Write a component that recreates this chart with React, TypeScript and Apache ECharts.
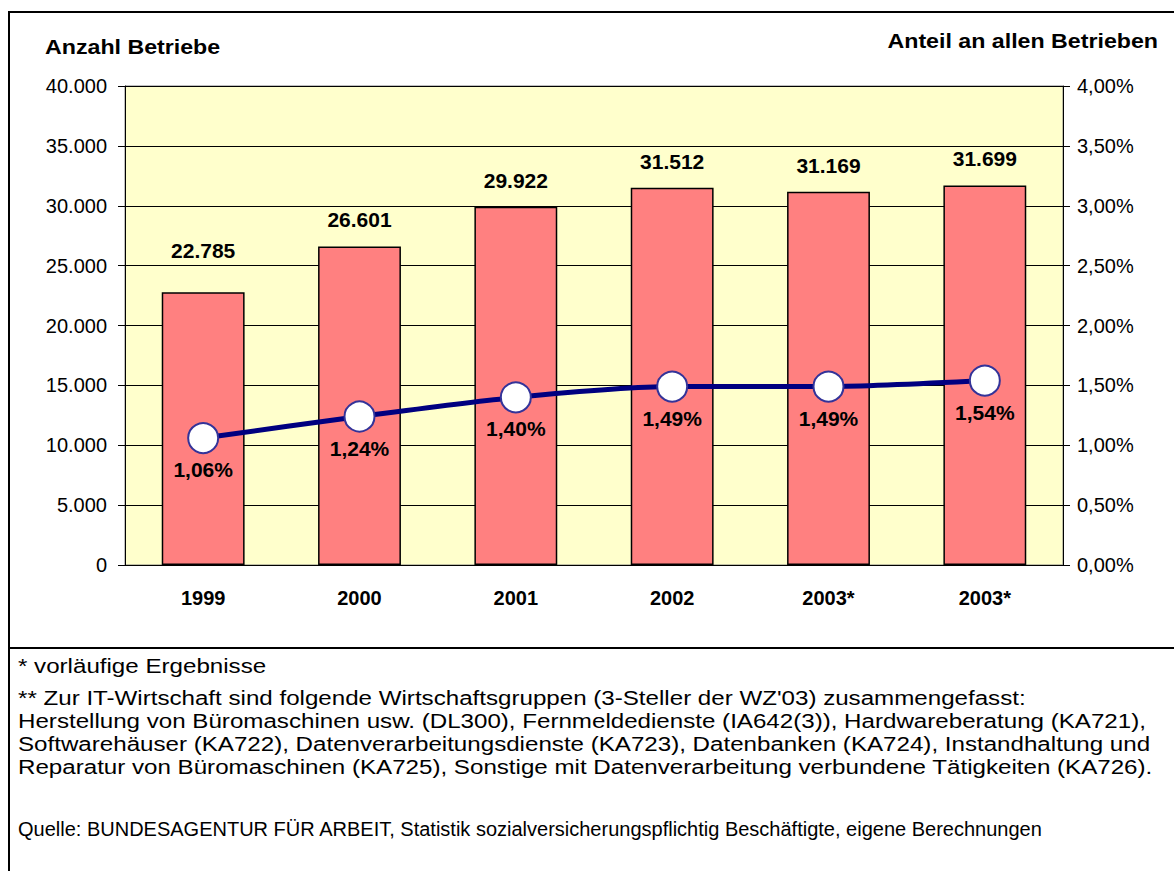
import React, { useEffect, useRef } from "react";
import * as echarts from "echarts";

const categories = ["1999", "2000", "2001", "2002", "2003*", "2003*"];
const betriebe = [22785, 26601, 29922, 31512, 31169, 31699];
const anteil = [1.06, 1.24, 1.4, 1.49, 1.49, 1.54];
const leftTicks = [0, 5000, 10000, 15000, 20000, 25000, 30000, 35000, 40000];
const rightTicks = [0, 0.5, 1, 1.5, 2, 2.5, 3, 3.5, 4];
const footnotes = [
  "* vorläufige Ergebnisse",
  "** Zur IT-Wirtschaft sind folgende Wirtschaftsgruppen (3-Steller der WZ'03) zusammengefasst:",
  "Herstellung von Büromaschinen usw. (DL300), Fernmeldedienste (IA642(3)), Hardwareberatung (KA721),",
  "Softwarehäuser (KA722), Datenverarbeitungsdienste (KA723), Datenbanken (KA724), Instandhaltung und",
  "Reparatur von Büromaschinen (KA725), Sonstige mit Datenverarbeitung verbundene Tätigkeiten (KA726).",
];
const source =
  "Quelle: BUNDESAGENTUR FÜR ARBEIT, Statistik sozialversicherungspflichtig Beschäftigte, eigene Berechnungen";

const FONT = "'Liberation Sans', Arial, Helvetica, sans-serif";

const fmtInt = (v: number) =>
  Math.round(v)
    .toString()
    .replace(/\B(?=(\d{3})+(?!\d))/g, ".");
const fmtPct = (v: number) => v.toFixed(2).replace(".", ",") + "%";

export default function App() {
  const ref = useRef<HTMLDivElement>(null);
  useEffect(() => {
    if (!ref.current) return;
    const chart = echarts.init(ref.current, null, { renderer: "svg" });
    const footY = [666, 698, 721, 744, 767];
    const option: any = {
      animation: false,
      backgroundColor: "#ffffff",
      grid: {
        left: 125,
        top: 86,
        right: 111,
        bottom: 306,
        show: true,
        backgroundColor: "#FFFFCC",
        borderColor: "#808080",
        borderWidth: 1,
      },
      xAxis: {
        type: "category",
        data: categories,
        axisLine: { show: true, lineStyle: { color: "#000", width: 1 } },
        axisTick: { show: false },
        axisLabel: {
          color: "#000",
          fontFamily: FONT,
          fontWeight: "bold",
          fontSize: 20,
          margin: 23,
        },
      },
      yAxis: [
        {
          type: "value",
          min: leftTicks[0],
          max: leftTicks[leftTicks.length - 1],
          interval: leftTicks[1] - leftTicks[0],
          position: "left",
          axisLine: { show: true, lineStyle: { color: "#000", width: 1 } },
          axisTick: { show: true, length: 7, lineStyle: { color: "#000" } },
          axisLabel: {
            color: "#000",
            fontFamily: FONT,
            fontSize: 20,
            margin: 18,
            formatter: (v: number) => fmtInt(v),
          },
          splitLine: { show: true, lineStyle: { color: "#000", width: 1 } },
        },
        {
          type: "value",
          min: rightTicks[0],
          max: rightTicks[rightTicks.length - 1],
          interval: rightTicks[1] - rightTicks[0],
          position: "right",
          axisLine: { show: true, lineStyle: { color: "#000", width: 1 } },
          axisTick: { show: true, length: 7, lineStyle: { color: "#000" } },
          axisLabel: {
            color: "#000",
            fontFamily: FONT,
            fontSize: 20,
            margin: 14,
            formatter: (v: number) => fmtPct(v),
          },
          splitLine: { show: false },
        },
      ],
      series: [
        {
          type: "bar",
          yAxisIndex: 0,
          barWidth: "53%",
          data: betriebe.map((v, i) =>
            i === 0 ? { value: v, label: { distance: 31 } } : v
          ),
          itemStyle: { color: "#FF8080", borderColor: "#000", borderWidth: 1.5 },
          label: {
            show: true,
            position: "top",
            distance: 16,
            color: "#000",
            fontFamily: FONT,
            fontWeight: "bold",
            fontSize: 21,
            formatter: (p: any) => fmtInt(p.value),
          },
          z: 2,
        },
        {
          type: "line",
          yAxisIndex: 1,
          data: anteil,
          smooth: 0.25,
          symbol: "circle",
          symbolSize: 30,
          lineStyle: { color: "#000080", width: 5 },
          itemStyle: { color: "#ffffff", borderColor: "#333399", borderWidth: 2 },
          label: {
            show: true,
            position: "bottom",
            distance: 5,
            color: "#000",
            fontFamily: FONT,
            fontWeight: "bold",
            fontSize: 21,
            formatter: (p: any) => fmtPct(p.value),
          },
          z: 3,
        },
      ],
      graphic: [
        {
          type: "rect",
          shape: { x: 9, y: 12, width: 1200, height: 900 },
          style: { fill: "none", stroke: "#000", lineWidth: 2 },
          silent: true,
          z: 100,
        },
        {
          type: "line",
          shape: { x1: 9, y1: 648, x2: 1174, y2: 648 },
          style: { stroke: "#000", lineWidth: 2 },
          silent: true,
          z: 100,
        },
        {
          type: "text",
          x: 45,
          y: 47,
          scaleX: 1.16,
          style: {
            text: "Anzahl Betriebe",
            font: `bold 20px ${FONT}`,
            fill: "#000",
            textVerticalAlign: "middle",
          },
        },
        {
          type: "text",
          x: 1158,
          y: 41,
          scaleX: 1.16,
          style: {
            text: "Anteil an allen Betrieben",
            font: `bold 20px ${FONT}`,
            fill: "#000",
            textAlign: "right",
            textVerticalAlign: "middle",
          },
        },
        ...footnotes.map((t, i) => ({
          type: "text",
          x: 18,
          y: footY[i],
          scaleX: 1.15,
          style: {
            text: t,
            font: `21px ${FONT}`,
            fill: "#000",
            textVerticalAlign: "middle",
          },
        })),
        {
          type: "text",
          x: 18,
          y: 829,
          style: {
            text: source,
            font: `20px ${FONT}`,
            fill: "#000",
            textVerticalAlign: "middle",
          },
        },
      ],
    };
    chart.setOption(option);
    return () => chart.dispose();
  }, []);
  return (
    <div
      ref={ref}
      style={{ position: "absolute", left: 0, top: 0, width: 1174, height: 871 }}
    />
  );
}
